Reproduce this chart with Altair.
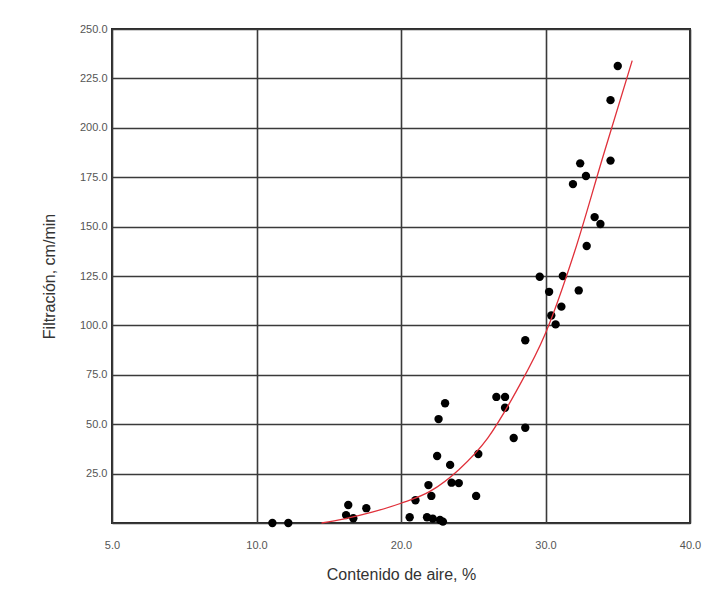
import altair as alt
import pandas as pd

# Observed points (air content %, filtration cm/min)
aire = [11.1, 12.2, 16.2, 16.35, 16.7, 17.6, 20.6, 21.0, 21.8, 21.9, 22.1, 22.2,
        22.5, 22.6, 22.7, 22.9, 23.05, 23.4, 23.5, 24.0, 25.2, 25.35, 26.6, 27.2,
        27.2, 27.8, 28.6, 28.6, 29.6, 30.25, 30.4, 30.7, 31.1, 31.2, 32.3, 32.85,
        33.4, 33.8, 31.9, 32.4, 32.8, 34.5, 34.5, 35.0]
filtracion = [0, 0, 4, 9.1, 2.4, 7.5, 2.9, 11.5, 2.9, 19.2, 13.7, 2.2,
              33.9, 52.6, 1.5, 0.7, 60.6, 29.4, 20.4, 20.2, 13.7, 34.9, 63.8, 63.8,
              58.3, 43, 48.2, 92.5, 124.6, 117, 105, 100.5, 109.5, 125, 117.7, 140.2,
              154.8, 151.3, 171.5, 182, 175.6, 183.4, 214, 231.3]

# Fitted curve
curva_x = [14.5, 16, 18, 20, 22, 24, 26, 28, 30, 32, 34, 36]
curva_y = [0, 2, 5.5, 10, 16, 27, 43, 67, 96, 137, 186, 234]

x_ticks = [0, 10, 20, 30, 40]
y_ticks = [0, 25, 50, 75, 100, 125, 150, 175, 200, 225, 250]

pts = pd.DataFrame({"x": aire, "y": filtracion})
cur = pd.DataFrame({"x": curva_x, "y": curva_y})

xscale = alt.Scale(domain=[0, 40], nice=False, zero=False)
yscale = alt.Scale(domain=[0, 250], nice=False)

xaxis = alt.Axis(values=x_ticks, title="Contenido de aire, %",
                 labelExpr="datum.value == 0 ? '5.0' : format(datum.value, '.1f')",
                 grid=True, gridColor="#3a3a3a", gridWidth=1.6,
                 domain=False, ticks=False, labelPadding=16, labelFlush=False,
                 labelFont="Liberation Sans", labelFontSize=11, labelColor="#555555",
                 titleFont="Liberation Sans", titleFontSize=16, titleFontWeight="normal",
                 titleColor="#333333", titlePadding=16)
yaxis = alt.Axis(values=y_ticks, title="Filtración, cm/min",
                 labelExpr="datum.value == 0 ? '' : format(datum.value, '.1f')",
                 grid=True, gridColor="#3a3a3a", gridWidth=1.6,
                 domain=False, ticks=False, labelPadding=5, labelFlush=False,
                 labelFont="Liberation Sans", labelFontSize=11, labelColor="#555555",
                 titleFont="Liberation Sans", titleFontSize=16, titleFontWeight="normal",
                 titleColor="#333333", titlePadding=22)

points = alt.Chart(pts).mark_circle(color="black", opacity=1, size=70).encode(
    x=alt.X("x:Q", scale=xscale, axis=xaxis),
    y=alt.Y("y:Q", scale=yscale, axis=yaxis),
)

line = alt.Chart(cur).mark_line(color="#e0303a", strokeWidth=1.3, interpolate="monotone").encode(
    x=alt.X("x:Q", scale=xscale),
    y=alt.Y("y:Q", scale=yscale),
)

chart = alt.layer(points, line).properties(
    width=578, height=494,
    autosize=alt.AutoSizeParams(type="none"),
    padding={"left": 112, "top": 29, "right": 20, "bottom": 74},
    background="white",
).configure_view(stroke="#2a2a2a", strokeWidth=2)

chart.save("out.html", embed_options={"renderer": "svg", "actions": False})
